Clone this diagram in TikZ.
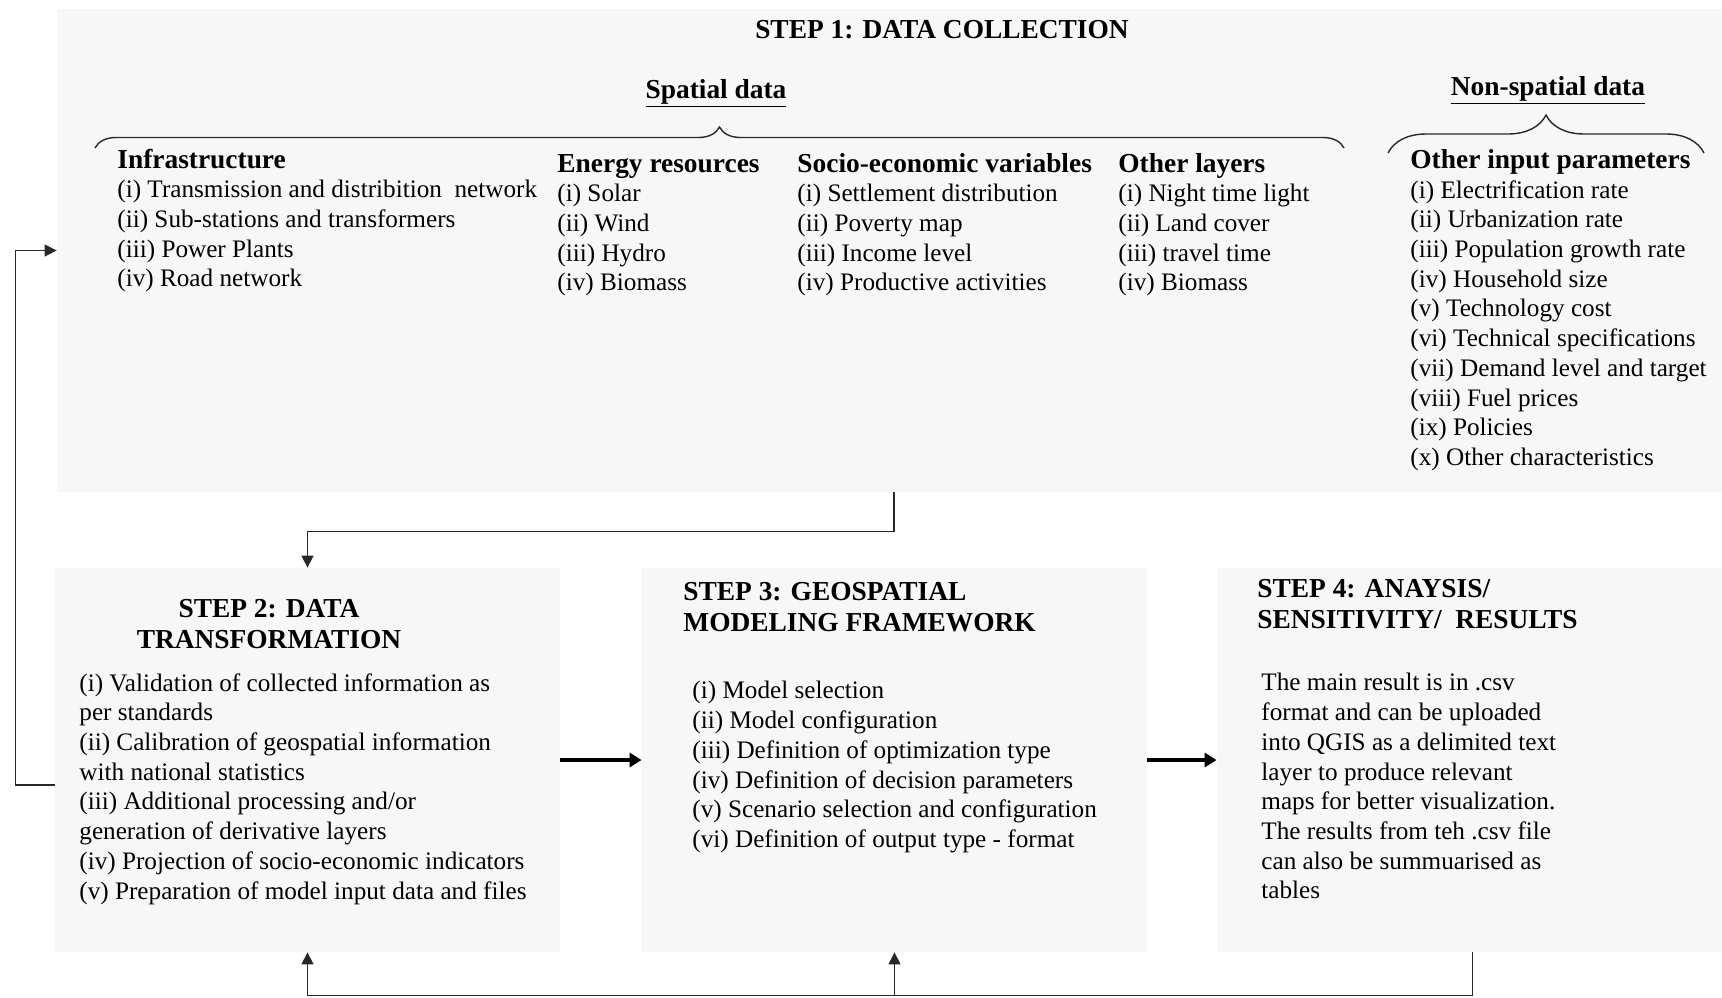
\documentclass[tikz,border=0pt]{standalone}
\usepackage{fontspec}
\setmainfont{Liberation Serif}
\usetikzlibrary{arrows.meta,decorations.pathreplacing}
\definecolor{panelgray}{RGB}{247,247,247}
\definecolor{linegray}{RGB}{40,40,40}
\newcommand{\itemfont}{\fontsize{12.6}{14.85}\selectfont}
\newcommand{\headfont}{\fontsize{13.7}{15.5}\selectfont\bfseries}

\begin{document}
\begin{tikzpicture}[x=0.5pt, y=-0.5pt,
    panel/.style={fill=panelgray, inner sep=0pt},
    head/.style={font=\headfont, inner sep=0pt},
    items/.style={font=\itemfont, align=left, anchor=north west, inner sep=0pt},
    conn/.style={draw=linegray, line width=0.75pt, -{Triangle[length=6pt,width=6pt]}},
    flow/.style={draw=black, line width=2.2pt, -{Triangle[length=6pt,width=7pt]}},
    bracket/.style={draw=linegray, line width=0.7pt, decorate}]
  \useasboundingbox (0,0) rectangle (1722,997);

  % panels
  \node[panel, minimum width=832.5pt, minimum height=241.5pt] (step1) at (889.5,250.5) {};
  \foreach \n/\x in {step2/307.5, step3/894.5, step4/1469.5}
    \node[panel, minimum width=252.5pt, minimum height=192pt] (\n) at (\x,760) {};

  % step 1
  \node[head, anchor=base] (title1) at (942,38) {STEP 1: DATA COLLECTION};
  \node[head, anchor=base] (spatial) at (716,98) {\underline{Spatial data}};
  \node[head, anchor=base] (nonspatial) at (1548,95) {\underline{Non-spatial data}};
  \draw[bracket, decoration={brace, amplitude=10.5pt}] (95,148) -- (1344,148);
  \draw[bracket, decoration={brace, amplitude=19pt}] (1388,153) -- (1704,153);

  \node[head, anchor=base west] (infra) at (117,168) {Infrastructure};
  \node[head, anchor=base west] (energy) at (557,172) {Energy resources};
  \node[head, anchor=base west] (socio) at (797,172) {Socio-economic variables};
  \node[head, anchor=base west] (layers) at (1118,172) {Other layers};
  \node[head, anchor=base west] (params) at (1410,168) {Other input parameters};

  \node[items] (infralist) at (117,180) {(i) Transmission and distribition\ \ network\\(ii) Sub-stations and transformers\\(iii) Power Plants\\(iv) Road network};
  \node[items] (energylist) at (557,184) {(i) Solar\\(ii) Wind\\(iii) Hydro\\(iv) Biomass};
  \node[items] (sociolist) at (797,184) {(i) Settlement distribution\\(ii) Poverty map\\(iii) Income level\\(iv) Productive activities};
  \node[items] (layerslist) at (1118,184) {(i) Night time light\\(ii) Land cover\\(iii) travel time\\(iv) Biomass};
  \node[items] (paramslist) at (1410,180) {(i) Electrification rate\\(ii) Urbanization rate\\(iii) Population growth rate\\(iv) Household size\\(v) Technology cost\\(vi) Technical specifications\\(vii) Demand level and target\\(viii) Fuel prices\\(ix) Policies\\(x) Other characteristics};

  % steps 2 to 4
  \node[head, align=center, anchor=north] (title2) at (269,599) {STEP 2: DATA\\TRANSFORMATION};
  \node[items] (list2) at (79,673) {(i) Validation of collected information as\\per standards\\(ii) Calibration of geospatial information\\with national statistics\\(iii) Additional processing and/or\\generation of derivative layers\\(iv) Projection of socio-economic indicators\\(v) Preparation of model input data and files};

  \node[head, align=left, anchor=north west] (title3) at (683,582) {STEP 3: GEOSPATIAL\\MODELING FRAMEWORK};
  \node[items] (list3) at (692,681) {(i) Model selection\\(ii) Model configuration\\(iii) Definition of optimization type\\(iv) Definition of decision parameters\\(v) Scenario selection and configuration\\(vi) Definition of output type - format};

  \node[head, align=left, anchor=north west] (title4) at (1257,579) {STEP 4: ANAYSIS/\\SENSITIVITY/~ RESULTS};
  \node[items] (list4) at (1261,673) {The main result is in .csv\\format and can be uploaded\\into QGIS as a delimited text\\layer to produce relevant\\maps for better visualization.\\The results from teh .csv file\\can also be summuarised as\\tables};

  % connectors
  \draw[conn] ([xshift=2.25pt]step1.south) -- ++(0,39) -| (step2.north);
  \draw[conn] ([yshift=-12.5pt]step2.west) -- ++(-39,0) |- (step1.west);
  \draw[flow] (step2.east) -- (step3.west);
  \draw[flow] (step3.east) -- (step4.west);
  \path (step3.south) ++(0,43) coordinate (loop);
  \draw[conn] ([xshift=1.5pt]step4.south) |- (loop) -| (step2.south);
  \draw[conn] (loop) -- (step3.south);
\end{tikzpicture}
\end{document}
